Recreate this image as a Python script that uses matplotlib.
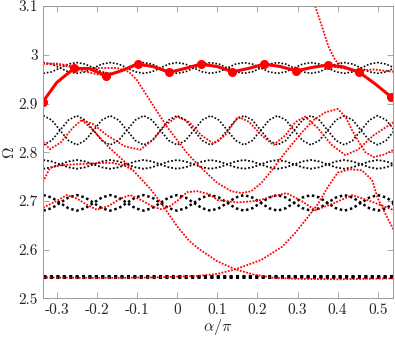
import matplotlib
matplotlib.use("Agg")
import matplotlib.pyplot as plt

plt.rcParams['font.family'] = 'serif'
plt.rcParams['font.serif'] = ['cmr10']
plt.rcParams['mathtext.fontset'] = 'cm'
plt.rcParams['axes.unicode_minus'] = False

# common alpha grid for the black (reference) bands, step 1/48
alpha_grid = [-0.3333, -0.3125, -0.2917, -0.2708, -0.25, -0.2292, -0.2083, -0.1875,
              -0.1667, -0.1458, -0.125, -0.1042, -0.0833, -0.0625, -0.0417, -0.0208,
              0.0, 0.0208, 0.0417, 0.0625, 0.0833, 0.1042, 0.125, 0.1458,
              0.1667, 0.1875, 0.2083, 0.2292, 0.25, 0.2708, 0.2917, 0.3125,
              0.3333, 0.3542, 0.375, 0.3958, 0.4167, 0.4375, 0.4583, 0.4792,
              0.5, 0.5208, 0.5417]

# black bands (pairs of crossing branches)
top_a = [2.984, 2.981, 2.973, 2.965, 2.962, 2.965, 2.973, 2.981] * 5 + [2.984, 2.981, 2.973]
top_b = [2.962, 2.965, 2.973, 2.981, 2.984, 2.981, 2.973, 2.965] * 5 + [2.962, 2.965, 2.973]
mid_a = [2.875, 2.866, 2.845, 2.824, 2.815, 2.824, 2.845, 2.866] * 5 + [2.875, 2.866, 2.845]
mid_b = [2.815, 2.824, 2.845, 2.866, 2.875, 2.866, 2.845, 2.824] * 5 + [2.815, 2.824, 2.845]
b78_a = [2.784, 2.781, 2.775, 2.769, 2.766, 2.769, 2.775, 2.781] * 5 + [2.784, 2.781, 2.775]
b78_b = [2.766, 2.769, 2.775, 2.781, 2.784, 2.781, 2.775, 2.769] * 5 + [2.766, 2.769, 2.775]
b70_a = [2.712, 2.707, 2.696, 2.685, 2.680, 2.685, 2.696, 2.707] * 5 + [2.712, 2.707, 2.696]
b70_b = [2.680, 2.685, 2.696, 2.707, 2.712, 2.707, 2.696, 2.685] * 5 + [2.680, 2.685, 2.696]
flat_alpha = [-0.3333, 0.5417]
flat_a = [2.5455, 2.5455]
flat_b = [2.5435, 2.5435]

# red thin branches (alpha, Omega)
v_alpha = [-0.334, -0.30, -0.26, -0.23, -0.19, -0.15, -0.12, -0.10, -0.09, -0.055, -0.025,
           0.025, 0.057, 0.10, 0.135, 0.16, 0.185, 0.21, 0.236, 0.27, 0.31, 0.34, 0.37,
           0.40, 0.42, 0.436, 0.455, 0.469, 0.49, 0.515, 0.54]
v_omega = [2.982, 2.980, 2.974, 2.971, 2.973, 2.973, 2.965, 2.948, 2.935, 2.89, 2.852,
           2.798, 2.77, 2.737, 2.72, 2.716, 2.72, 2.737, 2.763, 2.80, 2.84, 2.866, 2.882,
           2.889, 2.872, 2.845, 2.818, 2.80, 2.79, 2.795, 2.805]

t_alpha = [-0.334, -0.30, -0.27, -0.24, -0.20, -0.177, -0.14, -0.098, -0.06, -0.019, 0.02,
           0.059, 0.10, 0.138, 0.178, 0.217, 0.257, 0.297, 0.336, 0.375, 0.415, 0.45,
           0.49, 0.54]
t_omega = [2.982, 2.982, 2.978, 2.968, 2.960, 2.958, 2.967, 2.980, 2.975, 2.965, 2.972,
           2.980, 2.975, 2.966, 2.972, 2.980, 2.975, 2.967, 2.975, 2.978, 2.972, 2.967,
           2.970, 2.965]

s_alpha = [0.344, 0.361, 0.377, 0.394, 0.411, 0.43, 0.46]
s_omega = [3.10, 3.058, 3.017, 2.989, 2.976, 2.970, 2.968]

ra_alpha = [-0.334, -0.317, -0.29, -0.26, -0.238, -0.21, -0.175, -0.13, -0.092, -0.06,
            -0.03, 0.0, 0.03, 0.06, 0.09, 0.12, 0.152, 0.18, 0.21, 0.24, 0.27, 0.295,
            0.319, 0.35, 0.385, 0.419, 0.45, 0.49, 0.54]
ra_omega = [2.822, 2.806, 2.820, 2.850, 2.866, 2.858, 2.835, 2.812, 2.805, 2.825,
            2.855, 2.873, 2.862, 2.835, 2.818, 2.835, 2.873, 2.862, 2.835, 2.815, 2.835, 2.862,
            2.873, 2.850, 2.815, 2.794, 2.805, 2.835, 2.862]

rd_alpha = [-0.334, -0.317, -0.29, -0.26, -0.23, -0.19, -0.16, -0.13, -0.11, -0.067,
            -0.042, 0.0, 0.03, 0.057, 0.10, 0.145, 0.19, 0.24, 0.30, 0.40, 0.54]
rd_omega = [2.739, 2.768, 2.773, 2.775, 2.776, 2.778, 2.778, 2.772, 2.763, 2.725,
            2.698, 2.648, 2.618, 2.600, 2.576, 2.5595, 2.549, 2.542, 2.540, 2.539, 2.541]

rdu_alpha = [-0.238, -0.21, -0.17, -0.13, -0.11]
rdu_omega = [2.866, 2.846, 2.810, 2.780, 2.763]

ru_alpha = [-0.334, -0.25, -0.15, -0.05, 0.05, 0.10, 0.145, 0.21, 0.262, 0.294, 0.327,
            0.352, 0.376, 0.40, 0.43, 0.46, 0.486, 0.50, 0.52, 0.54]
ru_omega = [2.543, 2.542, 2.542, 2.543, 2.546, 2.550, 2.5595, 2.579, 2.606, 2.634, 2.668,
            2.695, 2.729, 2.758, 2.765, 2.763, 2.743, 2.705, 2.672, 2.640]

r70_alpha = [-0.334, -0.30, -0.275, -0.25, -0.22, -0.20, -0.17, -0.14, -0.117, -0.09,
             -0.06, -0.04, -0.02, 0.0, 0.025, 0.05, 0.08, 0.10, 0.15, 0.20, 0.24, 0.273,
             0.31, 0.344, 0.39, 0.436, 0.48, 0.54]
r70_omega = [2.686, 2.700, 2.712, 2.705, 2.690, 2.682, 2.690, 2.705, 2.712, 2.702,
             2.688, 2.683, 2.688, 2.700, 2.718, 2.720, 2.714, 2.702, 2.697, 2.700, 2.710, 2.716,
             2.700, 2.681, 2.695, 2.712, 2.700, 2.681]

# thick highlighted branch with markers
k_alpha = [-0.334, -0.30, -0.257, -0.22, -0.177, -0.14, -0.098, -0.06, -0.019, 0.02,
           0.059, 0.10, 0.138, 0.178, 0.217, 0.257, 0.297, 0.336, 0.375, 0.415, 0.454,
           0.494, 0.534]
k_omega = [2.904, 2.943, 2.972, 2.972, 2.957, 2.967, 2.981, 2.976, 2.964, 2.972,
           2.981, 2.976, 2.965, 2.972, 2.981, 2.976, 2.967, 2.974, 2.979, 2.975, 2.964,
           2.940, 2.913]
k_marks = list(range(0, 23, 2))

fig = plt.figure(figsize=(3.95, 3.39), dpi=100)
ax = fig.add_axes([0.108, 0.12, 0.887, 0.862])

dots = (0, (1, 1.1))
for ya, yb, lw in [(top_a, top_b, 1.2), (mid_a, mid_b, 1.2), (b78_a, b78_b, 1.3),
                   (b70_a, b70_b, 1.8)]:
    ax.plot(alpha_grid, ya, color='black', lw=lw, ls=dots)
    ax.plot(alpha_grid, yb, color='black', lw=lw, ls=dots)
ax.plot(flat_alpha, flat_a, color='black', lw=2.2, ls=dots)
ax.plot(flat_alpha, flat_b, color='black', lw=2.2, ls=dots)

red = '#ff0000'
red_dots = (0, (1, 0.8))
for xa, ya in [(v_alpha, v_omega), (t_alpha, t_omega), (s_alpha, s_omega),
               (ra_alpha, ra_omega), (rd_alpha, rd_omega), (rdu_alpha, rdu_omega),
               (ru_alpha, ru_omega), (r70_alpha, r70_omega)]:
    ax.plot(xa, ya, color=red, lw=1.3, ls=red_dots)

ax.plot(k_alpha, k_omega, color=red, lw=2.2, marker='o', ms=5.5, markevery=k_marks)

ax.set_xlim(-0.335, 0.538)
ax.set_ylim(2.5, 3.1)
ax.set_xticks([-0.3, -0.2, -0.1, 0, 0.1, 0.2, 0.3, 0.4, 0.5])
ax.set_xticklabels(['-0.3', '-0.2', '-0.1', '0', '0.1', '0.2', '0.3', '0.4', '0.5'])
ax.set_yticks([2.5, 2.6, 2.7, 2.8, 2.9, 3.0, 3.1])
ax.set_yticklabels(['2.5', '2.6', '2.7', '2.8', '2.9', '3', '3.1'])
ax.tick_params(direction='in', length=4, width=0.6, colors='#9a9a9a',
               labelcolor='#262626', labelsize=11, top=True, right=True)
for sp in ax.spines.values():
    sp.set_color('#9a9a9a')
    sp.set_linewidth(0.7)
ax.set_xlabel(r'$\alpha/\pi$', fontsize=11.5, color='#262626', labelpad=0)
ax.set_ylabel(r'$\Omega$', fontsize=11.5, color='#262626', labelpad=1)

fig.savefig('out.png', dpi=100)
